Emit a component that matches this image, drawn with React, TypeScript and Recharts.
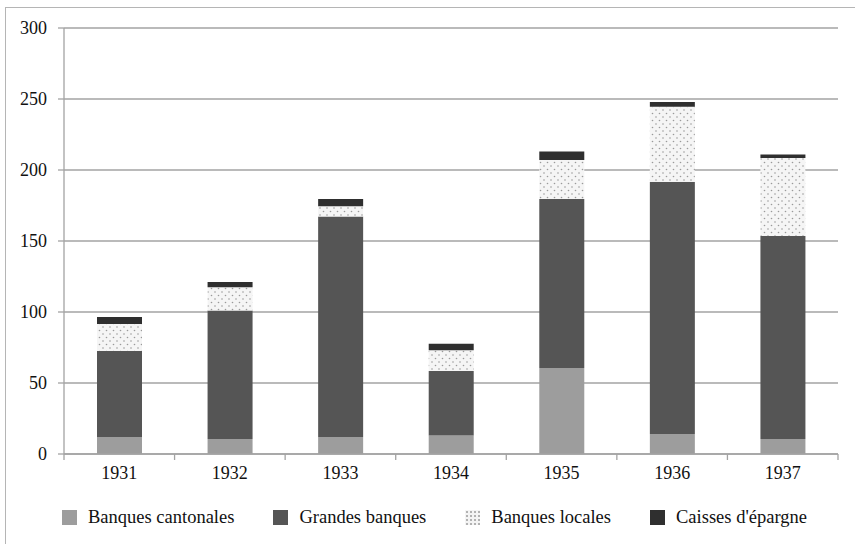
import React from "react";
import { BarChart, Bar, XAxis, YAxis, CartesianGrid } from "recharts";

const years = ["1931", "1932", "1933", "1934", "1935", "1936", "1937"];
const cantonales = [12, 10.5, 12, 13, 60.5, 14, 10.5];
const grandes = [60.5, 90.5, 155.3, 45.5, 119, 177.5, 143];
const locales = [19, 16.5, 7.1, 14.5, 27.5, 53, 55];
const caisses = [5, 3.7, 5.2, 4.7, 6, 3.3, 2.5];
const yTicks = [0, 50, 100, 150, 200, 250, 300];

const seriesNames = ["Banques cantonales", "Grandes banques", "Banques locales", "Caisses d'épargne"];
const seriesKeys = ["cantonales", "grandes", "locales", "caisses"];

const data = years.map((y, i) => ({
  year: y,
  cantonales: cantonales[i],
  grandes: grandes[i],
  locales: locales[i],
  caisses: caisses[i],
}));

const W = 855;
const H = 544;
const M = { top: 28, right: 17, left: 14, bottom: 60 };
const Y_W = 50;
const PLOT_W = W - M.left - M.right - Y_W;
const FONT = "'Liberation Serif', 'DejaVu Serif', serif";
const AXIS = "#a3a3a3";
const TEXT = "#111";
const fills = ["#9d9d9d", "#555555", "url(#dots)", "#2f2f2f"];

const XTick = (props: any) => {
  const { x, y, payload, index } = props;
  const half = PLOT_W / years.length / 2;
  return (
    <g>
      <line x1={x - half} x2={x - half} y1={y - 11} y2={y - 5} stroke={AXIS} strokeWidth={1.3} />
      {index === years.length - 1 && (
        <line x1={x + half} x2={x + half} y1={y - 11} y2={y - 5} stroke={AXIS} strokeWidth={1.3} />
      )}
      <text x={x} y={y} dy="0.75em" textAnchor="middle" fill={TEXT} fontSize={18} fontFamily={FONT}>
        {payload.value}
      </text>
    </g>
  );
};

const legendSwatch = (i: number): React.CSSProperties =>
  i === 2
    ? {
        background: "#f4f4f4 radial-gradient(circle, #b0b0b0 0.7px, transparent 1px) 0 0 / 4px 4px",
      }
    : { background: fills[i] };

export default function App() {
  return (
    <div style={{ position: "absolute", left: 0, top: 0, width: W, height: H, background: "#fff", overflow: "hidden" }}>
      <div
        style={{
          position: "absolute",
          left: 5,
          top: 7,
          width: W + 20,
          height: H + 20,
          border: "1.5px solid #b5b5b5",
        }}
      />
      <div style={{ position: "absolute", left: 0, top: 0 }}>
        <BarChart width={W} height={H} data={data} margin={M} barSize={45}>
          <defs>
            <pattern id="dots" width="7" height="7" patternUnits="userSpaceOnUse">
              <rect width="7" height="7" fill="#f5f5f5" />
              <circle cx="1.5" cy="1.5" r="0.8" fill="#9a9a9a" />
              <circle cx="5" cy="5" r="0.8" fill="#9a9a9a" />
            </pattern>
          </defs>
          <CartesianGrid vertical={false} stroke={AXIS} strokeWidth={1.3} />
          <XAxis
            dataKey="year"
            axisLine={{ stroke: AXIS, strokeWidth: 1.3 }}
            tickLine={{ stroke: "none" }}
            tickSize={5}
            tickMargin={6}
            height={30}
            tick={<XTick />}
            interval={0}
          />
          <YAxis
            width={Y_W}
            domain={[0, 300]}
            ticks={yTicks}
            interval={0}
            axisLine={{ stroke: AXIS, strokeWidth: 1.3 }}
            tickLine={{ stroke: AXIS, strokeWidth: 1.3 }}
            tickSize={6}
            tickMargin={11}
            tick={{ fill: TEXT, fontSize: 18, fontFamily: FONT }}
          />
          {seriesKeys.map((k, i) => (
            <Bar
              key={k}
              dataKey={k}
              name={seriesNames[i]}
              stackId="a"
              fill={fills[i]}
              isAnimationActive={false}
            />
          ))}
        </BarChart>
      </div>
      <div
        style={{
          position: "absolute",
          left: 62,
          top: 507,
          display: "flex",
          alignItems: "center",
          fontFamily: FONT,
          fontSize: 18.5,
          color: TEXT,
          whiteSpace: "nowrap",
        }}
      >
        {seriesNames.map((n, i) => (
          <div key={n} style={{ display: "flex", alignItems: "center", marginRight: 39 }}>
            <div style={{ width: 15, height: 15, marginRight: 11, ...legendSwatch(i) }} />
            <span>{n}</span>
          </div>
        ))}
      </div>
    </div>
  );
}
